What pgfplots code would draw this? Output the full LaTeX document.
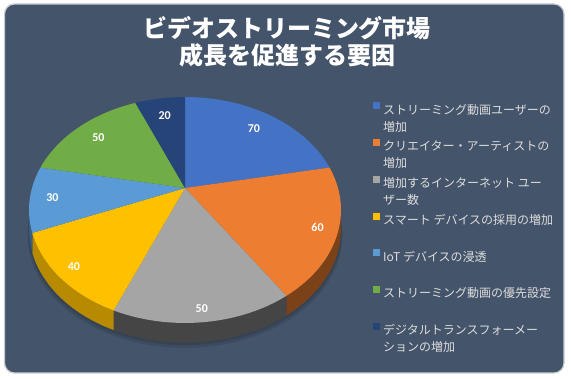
\documentclass[border=0pt]{standalone}
\usepackage{pgfplots}
\pgfplotsset{compat=1.18}
\usepackage{pgfplotstable}
\usepackage{fontspec}
\newfontfamily\jpfont{Noto Sans CJK JP}
\newfontfamily\lblfont{Carlito}

\definecolor{bg}{HTML}{44546A}
\definecolor{frame}{HTML}{C8CDD4}
\definecolor{legtext}{HTML}{DDDDDD}
\definecolor{pie0}{HTML}{4472C4}
\definecolor{pie1}{HTML}{ED7D31}
\definecolor{pie2}{HTML}{A5A5A5}
\definecolor{pie3}{HTML}{FFC000}
\definecolor{pie4}{HTML}{5B9BD5}
\definecolor{pie5}{HTML}{70AD47}
\definecolor{pie6}{HTML}{264478}
\colorlet{side0}{pie0!55!black}
\colorlet{side1}{pie1!52!black}
\colorlet{side2}{pie2!42!black}
\colorlet{side3}{pie3!72!black}
\colorlet{side4}{pie4!60!black}
\colorlet{side5}{pie5!55!black}
\colorlet{side6}{pie6!55!black}

\pgfplotstableread{
value
70
60
50
40
30
50
20
}\piedata

\def\E{0.1947}
\def\H{0.18}
\newcommand\onel[1]{\raisebox{0pt}[9pt][0pt]{#1}}
\newcommand\twol[2]{\raisebox{0pt}[9pt][0pt]{\vtop{\baselineskip=17pt\hbox{#1}\hbox{#2}}}}

\begin{document}
\begin{tikzpicture}[plabel/.style={text=white, font=\lblfont\bfseries\fontsize{12}{12}\selectfont, inner sep=0pt}]
\path[use as bounding box] (0,0) rectangle (571pt,379pt);
\fill[white] (0,0) rectangle (571pt,379pt);
\filldraw[fill=bg, draw=frame, line width=1.2pt, rounded corners=10pt] (4.5pt,6pt) rectangle (564pt,375pt);

\pgfplotstablegetrowsof{\piedata}
\pgfmathtruncatemacro\N{\pgfplotsretval-1}
\def\total{0}
\pgfplotsforeachungrouped \i in {0,...,\N}{%
  \pgfplotstablegetelem{\i}{value}\of\piedata
  \pgfmathsetmacro\total{\total+\pgfplotsretval}%
}
\def\cum{0}
\pgfplotsforeachungrouped \i in {0,...,\N}{%
  \pgfplotstablegetelem{\i}{value}\of\piedata
  \let\curval\pgfplotsretval
  \pgfmathsetmacro\aEnd{90-360*(\cum/\total)}%
  \pgfmathsetmacro\cum{\cum+\curval}%
  \pgfmathsetmacro\aStart{90-360*(\cum/\total)}%
  \pgfmathsetmacro\vS{max(\aStart,-168.8)}%
  \pgfmathsetmacro\vE{min(\aEnd,-11.2)}%
  \pgfmathtruncatemacro\vis{\vE>\vS+0.5}%
  \pgfmathsetmacro\aMid{(\aStart+\aEnd)/2}%
  \pgfmathsetmacro\rr{0.85-0.07*sin(\aMid)}%
  \pgfmathsetmacro\dd{1+\E*\rr*sin(\aMid)}%
  \pgfmathsetmacro\lx{\rr*cos(\aMid)/\dd}%
  \pgfmathsetmacro\ly{\rr*sin(\aMid)/\dd}%
  \expandafter\xdef\csname pS\i\endcsname{\aStart}%
  \expandafter\xdef\csname pE\i\endcsname{\aEnd}%
  \expandafter\xdef\csname pVs\i\endcsname{\vS}%
  \expandafter\xdef\csname pVe\i\endcsname{\vE}%
  \expandafter\xdef\csname pVis\i\endcsname{\vis}%
  \expandafter\xdef\csname pLx\i\endcsname{\lx}%
  \expandafter\xdef\csname pLy\i\endcsname{\ly}%
  \expandafter\xdef\csname pV\i\endcsname{\curval}%
}

\node[anchor=base, text=white, font=\jpfont\bfseries\fontsize{24}{28}\selectfont] at (287pt,341pt) {ビデオストリーミング市場};
\node[anchor=base, text=white, font=\jpfont\bfseries\fontsize{24}{28}\selectfont] at (287pt,314pt) {成長を促進する要因};

\begin{axis}[
  at={(16.7pt,27.95pt)}, anchor=south west,
  x=153pt, y=108.7pt,
  xmin=-1.1, xmax=1.1, ymin=-1.5, ymax=1.1,
  hide axis, clip=false,
  declare function={
    px(\t)=cos(\t)/(1+\E*sin(\t));
    py(\t)=sin(\t)/(1+\E*sin(\t));
    ang(\u,\a,\b)=ifthenelse(\u<=1.005,\a+(\b-\a)*\u,\b-(\b-\a)*max(\u-1.025,0)/0.975);
    off(\u)=ifthenelse(\u<=1.005,0,\H);
    fa(\u,\a,\b)=\a+(\b-\a)*min(\u,1);
    on(\u)=ifthenelse(\u<=1.005,1,0);
  },
  legend cell align=left,
  legend image code/.code={\fill[#1,/tikz/.cd,draw=none] (0pt,1pt) rectangle (7pt,8pt);},
  legend style={draw=none, fill=none, at={(1.0585,0.881)}, anchor=north west, inner sep=0pt,
     font=\jpfont\fontsize{12}{17}\selectfont, text=legtext,
     row sep=23.5pt, column sep=3pt,
     nodes={inner sep=0pt}},
]
% soft shadow below the pie
\addplot[fill=black, fill opacity=0.10, draw=none, domain=-175:-5, samples=60, forget plot]
  ({1.01*px(x)},{py(x)-\H-0.05}) -- (axis cs:1.0,0) -- (axis cs:-1.0,0) -- cycle;
\addplot[fill=black, fill opacity=0.10, draw=none, domain=-175:-5, samples=60, forget plot]
  ({1.005*px(x)},{py(x)-\H-0.025}) -- (axis cs:1.0,0) -- (axis cs:-1.0,0) -- cycle;
% sides
\pgfplotsforeachungrouped \i in {0,...,\N}{%
  \ifnum\csname pVis\i\endcsname=1
  \edef\temp{%
   \noexpand\addplot[fill=side\i, draw=none, domain=0:2, samples=103, forget plot]
     ({px(ang(x,\csname pVs\i\endcsname,\csname pVe\i\endcsname))},
      {py(ang(x,\csname pVs\i\endcsname,\csname pVe\i\endcsname))-off(x)});
  }\temp
  \fi
}
% top faces
\pgfplotsforeachungrouped \i in {0,...,\N}{%
  \edef\temp{\noexpand\addplot[fill=pie\i, draw=none, domain=0:1.04, samples=53]
     ({on(x)*px(fa(x,\csname pS\i\endcsname,\csname pE\i\endcsname))},
      {on(x)*py(fa(x,\csname pS\i\endcsname,\csname pE\i\endcsname))});}\temp
}
% labels
\pgfplotsforeachungrouped \i in {0,...,\N}{%
  \edef\temp{\noexpand\node[plabel] at (axis cs:\csname pLx\i\endcsname,\csname pLy\i\endcsname) {\csname pV\i\endcsname};}\temp
}
\legend{\twol{ストリーミング動画ユーザーの}{増加},
  \twol{クリエイター・アーティストの}{増加},
  \twol{増加するインターネット ユー}{ザー数},
  \onel{スマート デバイスの採用の増加},
  \onel{IoT デバイスの浸透},
  \onel{ストリーミング動画の優先設定},
  \twol{デジタルトランスフォーメー}{ションの増加}}
\end{axis}
\end{tikzpicture}
\end{document}
